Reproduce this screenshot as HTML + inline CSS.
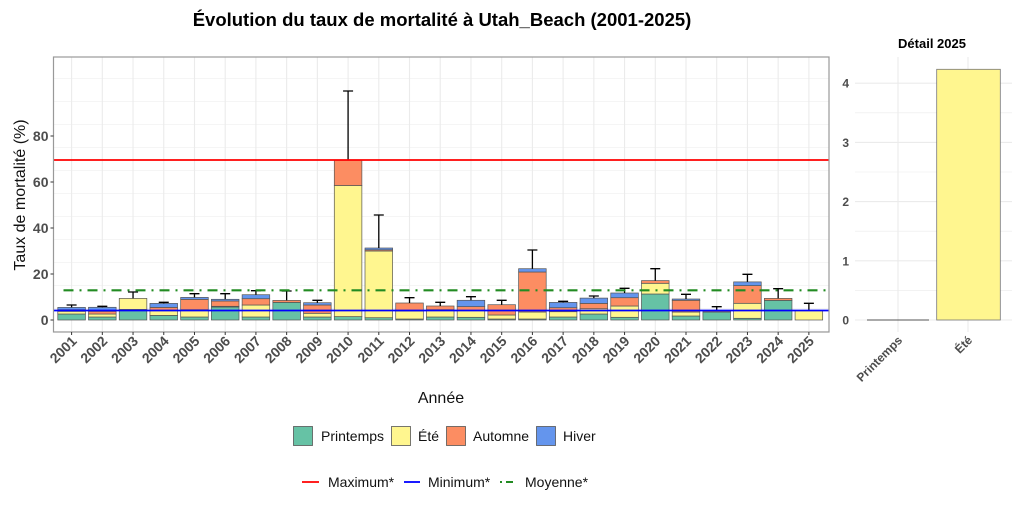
<!DOCTYPE html>
<html><head><meta charset="utf-8"><style>
body{margin:0;background:#fff}
svg{display:block;font-family:"Liberation Sans",sans-serif}
</style></head><body>
<svg id="s" width="1024" height="512" xmlns="http://www.w3.org/2000/svg">
<rect width="1024" height="512" fill="#fff"/>
<text x="442" y="26" font-size="18.5" font-weight="bold" text-anchor="middle">Évolution du taux de mortalité à Utah_Beach (2001-2025)</text>
<g id="main"></g>
<text x="932" y="48" font-size="13" font-weight="bold" text-anchor="middle">Détail 2025</text>
<g id="side"></g>
<text x="441" y="403" font-size="16" text-anchor="middle" fill="#111">Année</text>
<text transform="translate(25,195) rotate(-90)" font-size="16" text-anchor="middle" fill="#111">Taux de mortalité (%)</text>
<g stroke="#555" stroke-width="0.8">
<rect x="293.5" y="426.5" width="19" height="19" fill="#66c2a5"/>
<rect x="391.5" y="426.5" width="19" height="19" fill="#fff68f"/>
<rect x="446.5" y="426.5" width="19" height="19" fill="#fc8d62"/>
<rect x="536.5" y="426.5" width="19" height="19" fill="#6495ed"/>
</g>
<g font-size="14" fill="#111">
<text x="321" y="441">Printemps</text>
<text x="418" y="441">Été</text>
<text x="473" y="441">Automne</text>
<text x="563" y="441">Hiver</text>
<text x="328" y="487">Maximum*</text>
<text x="428" y="487">Minimum*</text>
<text x="525" y="487">Moyenne*</text>
</g>
<line x1="302" y1="482" x2="319" y2="482" stroke="red" stroke-width="1.8"/>
<line x1="404" y1="482" x2="420" y2="482" stroke="blue" stroke-width="1.8"/>
<line x1="500" y1="482" x2="502" y2="482" stroke="#228b22" stroke-width="2"/>
<line x1="506" y1="482" x2="513" y2="482" stroke="#228b22" stroke-width="2"/>
</svg>
<script>
const NS="http://www.w3.org/2000/svg";
function el(p,t,a,txt){const e=document.createElementNS(NS,t);for(const k in a)e.setAttribute(k,a[k]);if(txt!==undefined)e.textContent=txt;p.appendChild(e);return e;}
const m=document.getElementById('main');
const L=53.5,R=829,T=57,B=332,Y0=320,S=2.3;
el(m,'rect',{x:L,y:T,width:R-L,height:B-T,fill:'#fff'});
for(let v=-5;v<=110;v+=10){const y=Y0-v*S;if(y<T||y>B)continue;el(m,'line',{x1:L,x2:R,y1:y,y2:y,stroke:'#ebebeb','stroke-width':v%20==0?1.1:0.6});}
const cx=i=>71.6+i*30.72;
for(let i=0;i<25;i++)el(m,'line',{x1:cx(i),x2:cx(i),y1:T,y2:B,stroke:'#ebebeb','stroke-width':1.1});
const D=[
[6,2.7,1.6,2.3,305],[3,3,2.7,4,306.3],[10.6,11,0,0,292],[4.6,4.7,3.3,4,302.3],
[3,7.3,10.3,2,293.7],[13,0.7,5.3,1.7,293.7],[3,12,6.3,4,290.7],[17.6,0,2,0,291],
[3,3.7,8.3,2.3,300.3],[3.4,131.1,25.3,0,91],[2.3,66.7,1.2,1.8,215],[1,8,8,0,297.7],
[3,7.3,3.7,0,302.3],[2.7,6.7,4,6.3,296.7],[1,4,10.3,0,300.3],[1,7,40,3.3,250],
[3,5.3,4,5.3,301.3],[6,5.3,5.3,5.3,296],[2.7,11.3,8.3,4.7,288.3],[26,10.7,2.7,0,268.7],
[4,4,11.7,1.3,294.3],[8,0,1,0,306.7],[1.7,15,17.7,3.7,274.3],[19.6,0,2,0,288.7],[0,9.3,0,0,303.3]];
const C=['#66c2a5','#fff68f','#fc8d62','#6495ed'];
D.forEach((d,i)=>{let y=Y0;const x=cx(i)-13.8;for(let k=0;k<4;k++){if(d[k]<=0)continue;y-=d[k];el(m,'rect',{x:x,y:y,width:27.6,height:d[k],fill:C[k],stroke:'#555','stroke-width':0.7});}
 const c=cx(i);el(m,'path',{d:`M${c},${y}V${d[4]}M${c-5},${d[4]}H${c+5}`,stroke:'#000','stroke-width':1.3,fill:'none'});});
el(m,'line',{x1:L,x2:R,y1:160,y2:160,stroke:'red','stroke-width':1.8});
el(m,'line',{x1:L,x2:R,y1:310.5,y2:310.5,stroke:'blue','stroke-width':1.8});
el(m,'line',{x1:L+10,x2:R,y1:290.3,y2:290.3,stroke:'#228b22','stroke-width':2.2,'stroke-dasharray':'10,6,2,6'});
el(m,'rect',{x:L,y:T,width:R-L,height:B-T,fill:'none',stroke:'#999','stroke-width':1.2});
for(let v=0;v<=80;v+=20){const y=Y0-v*S;el(m,'line',{x1:L-3,x2:L,y1:y,y2:y,stroke:'#333'});el(m,'text',{x:L-5,y:y+5,'font-size':14,'font-weight':'bold',fill:'#4d4d4d','text-anchor':'end'},v);}
for(let i=0;i<25;i++){const c=cx(i);el(m,'line',{x1:c,x2:c,y1:B,y2:B+3,stroke:'#333'});el(m,'text',{transform:`translate(${c+6},${B+10}) rotate(-45)`,'font-size':14,'font-weight':'bold',fill:'#4d4d4d','text-anchor':'end'},2001+i);}
const s=document.getElementById('side');const SY=59.2;
for(let v=0;v<=4.25;v+=0.5){const y=320-v*SY;el(s,'line',{x1:855,x2:1012,y1:y,y2:y,stroke:'#ebebeb','stroke-width':v%1==0?1.1:0.6});}
[898,968].forEach(x=>el(s,'line',{x1:x,x2:x,y1:57,y2:332,stroke:'#ebebeb','stroke-width':1.1}));
el(s,'line',{x1:867,x2:929,y1:320,y2:320,stroke:'#555','stroke-width':1});
el(s,'rect',{x:936.7,y:69.3,width:63.6,height:250.7,fill:'#fff68f',stroke:'#777','stroke-width':0.8});
for(let v=0;v<=4;v++){el(s,'text',{x:849,y:320-v*SY+4.5,'font-size':12,'font-weight':'bold',fill:'#4d4d4d','text-anchor':'end'},v);}
el(s,'text',{transform:'translate(903,341) rotate(-45)','font-size':12,'font-weight':'bold',fill:'#4d4d4d','text-anchor':'end'},'Printemps');
el(s,'text',{transform:'translate(973,341) rotate(-45)','font-size':12,'font-weight':'bold',fill:'#4d4d4d','text-anchor':'end'},'Été');
</script>
</body></html>
